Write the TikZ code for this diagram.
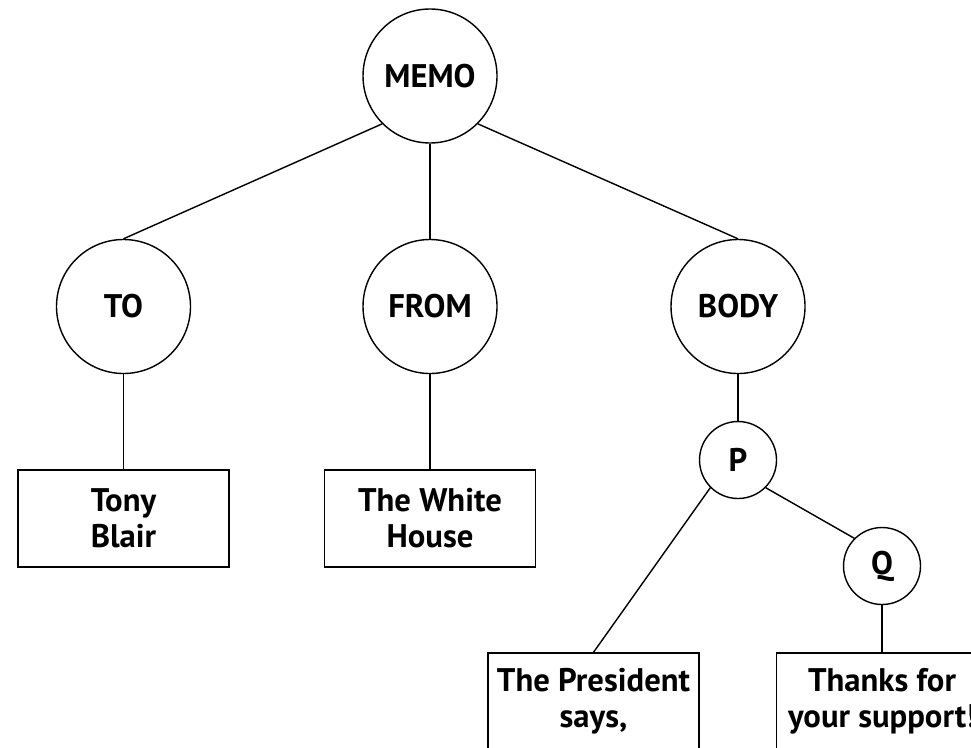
\documentclass[tikz,border=0pt]{standalone}
\usepackage{fontspec}
\setmainfont{PT Sans}
\usetikzlibrary{positioning}

\tikzset{
  tag/.style={draw,thin,circle,minimum size=1.34cm,inner sep=0pt,font=\fontsize{9.3}{10.2}\bfseries\selectfont},
  subtag/.style={draw,thin,circle,minimum size=0.77cm,inner sep=0pt,font=\fontsize{9.3}{10.2}\bfseries\selectfont},
  leaf/.style={draw,thin,rectangle,minimum width=2.11cm,minimum height=0.97cm,inner sep=0pt,align=center,font=\fontsize{9.3}{10.2}\bfseries\selectfont},
  link/.style={thin}
}

\begin{document}
\begin{tikzpicture}
\useasboundingbox (0,0) rectangle (9.71,7.47);
% tree of the memo
\node[tag] (memo) at (4.30,6.71) {MEMO};
\node[tag] (to) at (1.235,4.405) {TO};
\node[tag] (from) at (4.30,4.405) {FROM};
\node[tag] (body) at (7.38,4.405) {BODY};
\node[subtag] (p) at (7.38,2.87) {P};
\node[subtag] (q) at (8.82,1.81) {Q};

\node[leaf] (tony) at (1.235,2.285) {Tony\\Blair};
\node[leaf] (house) at (4.30,2.285) {The White\\House};
\node[leaf] (says) at (5.935,0.455) {The President\\says,};
\node[leaf] (thanks) at (8.82,0.455) {Thanks for\\your support!};

\draw[link] (memo.south west) -- (to.north);
\draw[link] (memo.south) -- (from.north);
\draw[link] (memo.south east) -- (body.north);
\draw[link] (to.south) -- (tony.north);
\draw[link] (from.south) -- (house.north);
\draw[link] (body.south) -- (p.north);
\draw[link] (p.south west) -- (says.north);
\draw[link] (p.south east) -- (q.north west);
\draw[link] (q.south) -- (thanks.north);
\end{tikzpicture}
\end{document}
